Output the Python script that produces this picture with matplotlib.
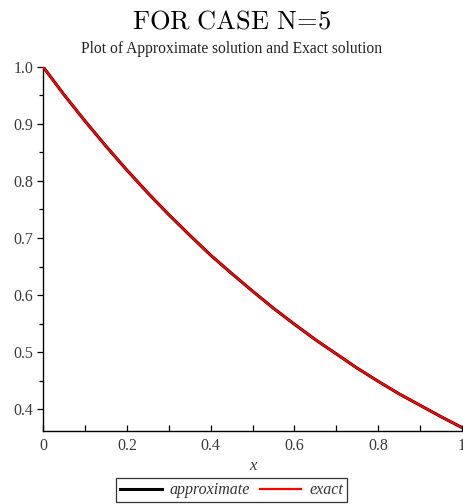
import numpy as np
import matplotlib
matplotlib.use('Agg')
import matplotlib.pyplot as plt
from matplotlib.ticker import MultipleLocator

# values
xVals = [0.0, 0.05, 0.1, 0.15, 0.2, 0.25, 0.3, 0.35, 0.4, 0.45, 0.5,
         0.55, 0.6, 0.65, 0.7, 0.75, 0.8, 0.85, 0.9, 0.95, 1.0]
approxVals = [1.0, 0.951, 0.905, 0.861, 0.819, 0.779, 0.741, 0.705, 0.670, 0.638, 0.607,
              0.577, 0.549, 0.522, 0.497, 0.472, 0.449, 0.427, 0.407, 0.387, 0.368]
exactVals = [1.0, 0.951, 0.905, 0.861, 0.819, 0.779, 0.741, 0.705, 0.670, 0.638, 0.607,
             0.577, 0.549, 0.522, 0.497, 0.472, 0.449, 0.427, 0.407, 0.387, 0.368]
xTicks = [0, 0.2, 0.4, 0.6, 0.8, 1]
xTickLabels = ['0', '0.2', '0.4', '0.6', '0.8', '1']
yTicks = [0.4, 0.5, 0.6, 0.7, 0.8, 0.9, 1.0]

plt.rcParams['mathtext.fontset'] = 'cm'
serif = 'Liberation Serif'

fig = plt.figure(figsize=(4.63, 5.04), dpi=100)
ax = fig.add_axes([0.0929, 0.1448, 0.905, 0.7229])

ax.plot(xVals, approxVals, c='black', lw=2.2, zorder=2, label='approximate')
ax.plot(xVals, exactVals, c='#ff0000', lw=1.6, zorder=3, label='exact')

ax.set_xlim(0, 1)
ax.set_ylim(0.362, 1.0)

for s in ['top', 'right']:
    ax.spines[s].set_visible(False)
for s in ['left', 'bottom']:
    ax.spines[s].set_linewidth(1.0)

ax.set_xticks(xTicks)
ax.set_xticklabels(xTickLabels)
ax.set_yticks(yTicks)
ax.xaxis.set_minor_locator(MultipleLocator(0.1))
ax.yaxis.set_minor_locator(MultipleLocator(0.05))
ax.tick_params(axis='x', which='both', direction='in', length=4, width=0.9, pad=5)
ax.tick_params(axis='y', which='major', direction='out', length=4, width=0.9, pad=3)
ax.tick_params(axis='y', which='minor', direction='out', length=3, width=0.9)
for lbl in ax.get_xticklabels() + ax.get_yticklabels():
    lbl.set_fontfamily(serif)
    lbl.set_fontsize(11.5)
    lbl.set_color('#3a3a3a')

ax.set_xlabel('x', fontfamily=serif, fontstyle='italic', fontsize=12, color='#3a3a3a', labelpad=3)

fig.text(0.5, 0.957, r'$\mathrm{FOR\ CASE\ N\!=\!5}$', ha='center', va='center', fontsize=19)
fig.text(0.5, 0.903, 'Plot of Approximate solution and Exact solution', ha='center', va='center',
         fontfamily=serif, fontsize=11.2, color='#222222')

leg = fig.legend(loc='lower center', bbox_to_anchor=(0.5, 0.0), ncol=2, frameon=True,
                 fancybox=False, edgecolor='black', handlelength=2.6, handletextpad=0.5,
                 columnspacing=0.6, borderpad=0.25, borderaxespad=0.1,
                 prop={'family': serif, 'style': 'italic', 'size': 11.5})
leg.get_frame().set_linewidth(0.9)
for t in leg.get_texts():
    t.set_color('#333333')

fig.savefig('out.png', dpi=100)
